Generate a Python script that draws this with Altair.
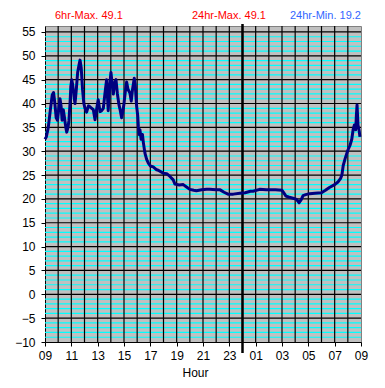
import altair as alt
import pandas as pd

# hours since 09:00 and temperature readings
HOURS = [0.0, 0.1, 0.25, 0.4, 0.55, 0.65, 0.75, 0.85, 0.95, 1.05, 1.14, 1.22, 1.3, 1.39, 1.48, 1.58,
         1.65, 1.75, 1.82, 1.9, 1.96, 2.03, 2.1, 2.2, 2.28, 2.38, 2.48, 2.58, 2.66, 2.75, 2.85, 2.95,
         3.04, 3.16, 3.3, 3.42, 3.55, 3.67, 3.8, 3.9, 4.04, 4.18, 4.3, 4.43, 4.55, 4.68, 4.8, 4.92,
         5.01, 5.1, 5.19, 5.3, 5.39, 5.5, 5.62, 5.72, 5.82, 5.92, 6.0, 6.1, 6.2, 6.3, 6.45, 6.55,
         6.65, 6.78, 6.85, 6.96, 7.04, 7.09, 7.15, 7.21, 7.3, 7.4, 7.47, 7.59, 7.72, 7.85, 8.0, 8.22,
         8.48, 8.6, 8.98, 9.24, 9.49, 9.74, 9.87, 10.2, 10.5, 10.75, 11.0, 11.3, 11.5, 11.9, 12.28,
         12.5, 13.0, 13.3, 13.6, 13.9, 14.3, 14.8, 15.2, 15.6, 15.8, 16.3, 16.8, 17.5, 18.0, 18.15,
         18.3, 18.5, 18.9, 19.1, 19.3, 19.45, 19.6, 19.8, 20.1, 20.5, 21.0, 21.3, 21.6, 22.0, 22.27,
         22.45, 22.55, 22.65, 22.8, 23.0, 23.16, 23.3, 23.4, 23.5, 23.6, 23.65, 23.7, 23.77, 23.85,
         23.92]
TEMPS = [32.5, 33.0, 35.0, 38.5, 41.8, 42.3, 40.0, 37.0, 36.5, 39.0, 41.0, 39.5, 36.5, 38.7, 37.0, 35.0,
         34.0, 35.0, 36.5, 40.0, 43.5, 45.0, 44.0, 41.5, 40.0, 43.0, 46.5, 48.0, 49.1, 47.5, 43.0, 40.0,
         39.0, 38.2, 39.5, 39.3, 39.0, 38.7, 36.6, 38.5, 40.8, 38.3, 38.5, 39.0, 42.0, 45.0, 38.5, 44.0,
         46.5, 44.0, 42.0, 44.5, 45.0, 42.0, 39.7, 38.5, 37.0, 38.5, 40.0, 42.5, 44.5, 43.0, 42.2, 40.5,
         43.0, 45.3, 44.0, 39.4, 37.5, 35.2, 33.5, 34.5, 32.5, 33.5, 31.8, 29.6, 28.3, 27.5, 26.9, 26.7,
         26.1, 26.0, 25.4, 25.3, 24.7, 24.0, 23.1, 22.9, 23.0, 22.5, 22.0, 21.8, 21.7, 21.9, 22.0,
         22.0, 21.9, 21.9, 21.4, 21.0, 21.0, 21.2, 21.3, 21.6, 21.6, 22.0, 21.9, 21.9, 21.8, 21.2,
         20.6, 20.4, 20.1, 19.9, 19.2, 19.8, 20.7, 20.9, 21.1, 21.2, 21.3, 21.8, 22.4, 23.0, 23.6,
         24.3, 25.0, 27.0, 28.5, 30.2, 31.2, 32.5, 34.5, 35.5, 34.5, 37.5, 39.7, 35.5, 34.5,
         33.0]

X_TICKS = list(range(0, 25, 2))
X_GRID = list(range(1, 24))
MIDNIGHT = [15]
Y_TICKS = list(range(-10, 56, 5))
Y_MINOR = [v for v in range(-9, 55) if v % 5 != 0]

NOTES = ["6hr-Max. 49.1", "24hr-Max. 49.1", "24hr-Min. 19.2"]
NOTE_COLORS = ["#FF0000", "#FF0000", "#3366FF"]
NOTE_X = [10, 147, 245]

FONT = "Liberation Sans"

xs = alt.Scale(domain=[0, 24], nice=False, zero=False)
ys = alt.Scale(domain=[-10, 56.25], nice=False, zero=False)

AX = alt.Axis(values=X_TICKS, grid=False, domainColor="#000000", tickColor="#000000",
              tickSize=4, labelPadding=4, labelFontSize=12, labelFont=FONT, labelFlush=False,
              labelColor="#000000", titleFont=FONT, titleFontSize=12,
              titleFontWeight="normal", titleColor="#000000", titleX=150, titleY=25,
              titleBaseline="top",
              labelExpr="(((datum.value+9)%24) < 10 ? '0' : '') + ((datum.value+9)%24)")
AY = alt.Axis(values=Y_TICKS, grid=False, domainColor="#000000", tickColor="#000000",
              tickSize=4, labelPadding=6, labelFontSize=12, labelFont=FONT, labelFlush=False,
              labelColor="#000000")

df = pd.DataFrame({"h": HOURS, "t": TEMPS})

minor = alt.Chart(pd.DataFrame({"t": Y_MINOR})).mark_rule(color="#00FFFF", strokeWidth=1.2).encode(
    y=alt.Y("t:Q", scale=ys, axis=AY, title=None))
major = alt.Chart(pd.DataFrame({"t": Y_TICKS[1:]})).mark_rule(color="#000000", strokeWidth=1.2).encode(
    y=alt.Y("t:Q", scale=ys, axis=AY, title=None))
vgrid = alt.Chart(pd.DataFrame({"h": X_GRID})).mark_rule(color="#000000", strokeWidth=1.2).encode(
    x=alt.X("h:Q", scale=xs, axis=AX, title="Hour"))
mid = alt.Chart(pd.DataFrame({"h": MIDNIGHT})).mark_rule(color="#000000", strokeWidth=2.5, clip=False).encode(
    x=alt.X("h:Q", scale=xs, axis=AX, title="Hour"), y=alt.value(-2), y2=alt.value(327))

line = alt.Chart(df).mark_line(color="#000080", strokeWidth=3, strokeJoin="round").encode(
    x=alt.X("h:Q", scale=xs, axis=AX, title="Hour"),
    y=alt.Y("t:Q", scale=ys, axis=AY, title=None),
)

notes = alt.Chart(pd.DataFrame({"txt": NOTES, "c": NOTE_COLORS, "px": NOTE_X})).mark_text(
    align="left", baseline="middle", fontSize=11, font=FONT, clip=False).encode(
    text="txt:N", x=alt.X("px:Q", scale=None), y=alt.value(-10.5),
    color=alt.Color("c:N", scale=None))

chart = alt.layer(minor, major, vgrid, mid, line, notes).properties(
    width=316, height=316,
    background="#FFFFFF",
    autosize=alt.AutoSizeParams(type="none"),
    padding={"left": 37, "top": 18, "right": 16, "bottom": 44},
).configure_view(fill="#C0C0C0", stroke="#808080", strokeWidth=1)

chart.save("out.html", embed_options={"renderer": "svg", "actions": False})
